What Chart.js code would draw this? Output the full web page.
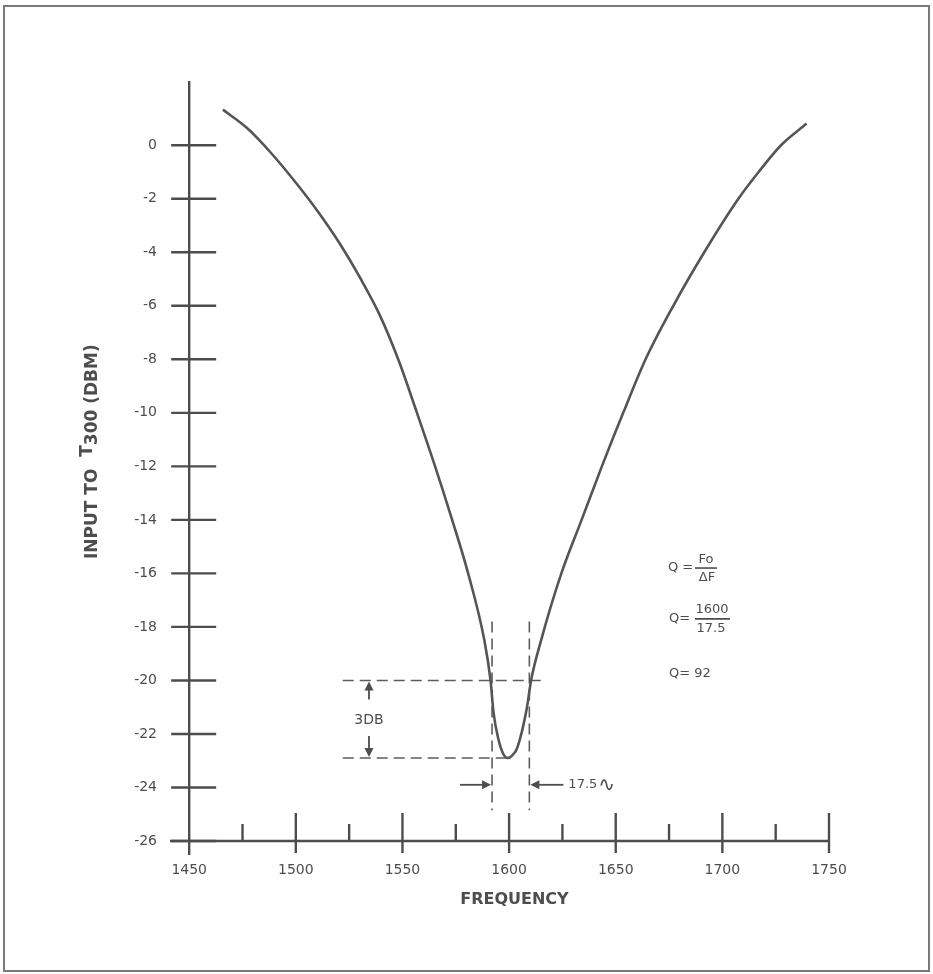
<!DOCTYPE html>
<html>
<head>
<meta charset="utf-8">
<script src="https://cdn.jsdelivr.net/npm/chart.js@4/dist/chart.umd.min.js"></script>
<style>
  body { margin: 0; background: #fff; }
  #wrap { position: relative; width: 933px; height: 974px; }
  #frame { position: absolute; left: 3px; top: 5px; width: 923px; height: 963px; border: 2px solid #7a7a7a; pointer-events: none; }
</style>
</head>
<body>
<div id="wrap">
  <canvas id="freqGraph" width="933" height="974"></canvas>
  <div id="frame"></div>
</div>
<script>
// response curve
const freqs  = [1465.8, 1477.0, 1488.5, 1500.5, 1511.0, 1520.8, 1530.1, 1539.2, 1548.0, 1556.8, 1565.3, 1573.3, 1580.8, 1588.4, 1591.3, 1592.7, 1595.0, 1597.0, 1599.3, 1601.5, 1603.9, 1608.4, 1610.3, 1615.0, 1624.5, 1634.0, 1643.5, 1653.5, 1664.0, 1677.0, 1691.5, 1707.5, 1717.0, 1727.5, 1739.5]
const levels = [1.33, 0.65, -0.3, -1.45, -2.55, -3.7, -4.95, -6.32, -8, -10, -12, -14, -16, -18.5, -20, -21.2, -22.2, -22.7, -22.9, -22.8, -22.5, -21, -20, -18.5, -16, -14, -12, -10, -8, -6, -4, -2, -1, 0, 0.81]

const xTickValues = [1450, 1500, 1550, 1600, 1650, 1700, 1750]
const xTickLabels = ['1450', '1500', '1550', '1600', '1650', '1700', '1750']
const xMinorTicks = [1475, 1525, 1575, 1625, 1675, 1725]
const yTickValues = [-26, -24, -22, -20, -18, -16, -14, -12, -10, -8, -6, -4, -2, 0]
const yTickLabels = ['-26', '-24', '-22', '-20', '-18', '-16', '-14', '-12', '-10', '-8', '-6', '-4', '-2', '0']

// 3 dB bandwidth construction
const halfPowerLevel = -20
const minLevel = -22.9
const bandEdges = [1592, 1609.5]
const guideStart = 1522
const guideEnds = [1616, 1599]
const edgeSpan = [-17.8, -24.85]

const ink = '#4d4d4d'
const fontFam = '"DejaVu Sans", sans-serif'

function line(ctx, x1, y1, x2, y2) {
    ctx.beginPath()
    ctx.moveTo(x1, y1)
    ctx.lineTo(x2, y2)
    ctx.stroke()
}

function arrowHead(ctx, x, y, dir) {//dir: 'up','down','left','right'
    const l = 9, w = 4.5
    ctx.beginPath()
    ctx.moveTo(x, y)
    if (dir == 'up') { ctx.lineTo(x - w, y + l); ctx.lineTo(x + w, y + l) }
    if (dir == 'down') { ctx.lineTo(x - w, y - l); ctx.lineTo(x + w, y - l) }
    if (dir == 'left') { ctx.lineTo(x + l, y - w); ctx.lineTo(x + l, y + w) }
    if (dir == 'right') { ctx.lineTo(x - l, y - w); ctx.lineTo(x - l, y + w) }
    ctx.closePath()
    ctx.fill()
}

const axesPlugin = {
    id: 'axesPlugin',
    beforeDatasetsDraw(chart) {
        const ctx = chart.ctx, xs = chart.scales.x, ys = chart.scales.y
        const x0 = xs.getPixelForValue(1450)
        const yb = ys.getPixelForValue(-26)
        ctx.save()
        ctx.strokeStyle = ink
        ctx.lineWidth = 2.4
        line(ctx, x0, ys.top, x0, yb + 14)//y axis
        line(ctx, xs.left, yb, xs.getPixelForValue(1750), yb)//x axis
        yTickValues.forEach(function (v) {
            const y = ys.getPixelForValue(v)
            line(ctx, x0 - 18, y, x0 + 27, y)
        })
        xTickValues.slice(1).forEach(function (v) {
            const x = xs.getPixelForValue(v)
            line(ctx, x, yb - 28, x, yb + 12)
        })
        xMinorTicks.forEach(function (v) {
            const x = xs.getPixelForValue(v)
            line(ctx, x, yb - 17, x, yb)
        })
        ctx.restore()
    },
    afterDatasetsDraw(chart) {
        const ctx = chart.ctx, xs = chart.scales.x, ys = chart.scales.y
        ctx.save()
        ctx.strokeStyle = ink
        ctx.fillStyle = ink
        ctx.lineWidth = 1.8

        // 3DB arrow
        const ax = xs.getPixelForValue(1534.3)
        const yTop = ys.getPixelForValue(halfPowerLevel)
        const yBot = ys.getPixelForValue(minLevel)
        line(ctx, ax, yTop + 4, ax, yTop + 19)
        line(ctx, ax, yBot - 22, ax, yBot - 4)
        arrowHead(ctx, ax, yTop + 1, 'up')
        arrowHead(ctx, ax, yBot - 1, 'down')
        ctx.font = '14px ' + fontFam
        ctx.textAlign = 'center'
        ctx.textBaseline = 'middle'
        ctx.fillText('3DB', ax, (yTop + yBot) / 2 + 1)

        // 17.5 arrows
        const ay = ys.getPixelForValue(-23.9)
        const lx = xs.getPixelForValue(bandEdges[0])
        const rx = xs.getPixelForValue(bandEdges[1])
        line(ctx, lx - 32, ay, lx - 6, ay)
        arrowHead(ctx, lx - 1, ay, 'right')
        line(ctx, rx + 6, ay, rx + 34, ay)
        arrowHead(ctx, rx + 1, ay, 'left')
        ctx.textAlign = 'left'
        ctx.font = '13px ' + fontFam
        ctx.fillText('17.5', rx + 39, ay)
        ctx.font = '20px ' + fontFam
        ctx.fillText('\u223F', rx + 69, ay + 1)

        // Q formulas
        const qx = xs.getPixelForValue(1674.5)
        const q1 = ys.getPixelForValue(-15.8)
        const q2 = ys.getPixelForValue(-17.7)
        const q3 = ys.getPixelForValue(-19.75)
        ctx.font = '13px ' + fontFam
        ctx.textAlign = 'left'
        ctx.fillText('Q =', qx, q1)
        ctx.fillText('Q=', qx + 1, q2)
        ctx.fillText('Q= 92', qx + 1, q3)
        ctx.textAlign = 'center'
        ctx.fillText('Fo', qx + 38, q1 - 8)
        ctx.fillText('\u0394F', qx + 39, q1 + 10)
        ctx.fillText('1600', qx + 44, q2 - 9)
        ctx.fillText('17.5', qx + 43, q2 + 10)
        ctx.lineWidth = 1.6
        line(ctx, qx + 27, q1, qx + 49, q1)
        line(ctx, qx + 27, q2, qx + 62, q2)

        // axis titles
        ctx.font = 'bold 16px ' + fontFam
        ctx.textAlign = 'center'
        ctx.textBaseline = 'middle'
        ctx.fillText('FREQUENCY', xs.getPixelForValue(1602.5), ys.getPixelForValue(-26) + 59)

        ctx.font = 'bold 17px ' + fontFam
        ctx.translate(xs.left - 77, ys.getPixelForValue(-11.45))
        ctx.rotate(-Math.PI / 2)
        const partA = 'INPUT TO  ', partT = 'T', partB = '300 (DBM)'
        const wA = ctx.measureText(partA).width, wT = ctx.measureText(partT).width, wB = ctx.measureText(partB).width
        let start = -(wA + wT + wB) / 2
        ctx.textAlign = 'left'
        ctx.fillText(partA, start, 0)
        ctx.fillText(partT, start + wA, -5)
        ctx.fillText(partB, start + wA + wT, 0)
        ctx.restore()
    }
}

function dashed(points) {
    return {
        data: points,
        borderColor: '#5c5c5c',
        borderWidth: 1.6,
        borderDash: [11, 6],
        pointRadius: 0,
        tension: 0
    }
}

new Chart(
    document.getElementById('freqGraph'),
    {
        type: 'line',
        data: {
            datasets: [
                {
                    data: freqs.map((f, i) => ({ x: f, y: levels[i] })),
                    borderColor: '#555',
                    borderWidth: 2.6,
                    pointRadius: 0,
                    cubicInterpolationMode: 'monotone'
                },
                dashed([{ x: guideStart, y: halfPowerLevel }, { x: guideEnds[0], y: halfPowerLevel }]),
                dashed([{ x: guideStart, y: minLevel }, { x: guideEnds[1], y: minLevel }]),
                dashed([{ x: bandEdges[0], y: edgeSpan[0] }, { x: bandEdges[0], y: edgeSpan[1] }]),
                dashed([{ x: bandEdges[1], y: edgeSpan[0] }, { x: bandEdges[1], y: edgeSpan[1] }])
            ]
        },
        options: {
            responsive: false,
            animation: false,
            events: [],//no hover
            layout: { padding: { top: 81, right: 104, left: 0, bottom: 0 } },
            plugins: {
                legend: { display: false },
                tooltip: { enabled: false }
            },
            scales: {
                x: {
                    type: 'linear',
                    min: 1441,
                    max: 1750,
                    grid: { display: false },
                    border: { display: false },
                    afterBuildTicks: function (scale) {
                        scale.ticks = xTickValues.map(v => ({ value: v }))
                    },
                    afterFit: function (scale) { scale.height = 133 },
                    ticks: {
                        autoSkip: false,
                        maxRotation: 0,
                        padding: 13,
                        color: ink,
                        font: { family: fontFam, size: 14 },
                        callback: function (value, index) { return xTickLabels[index] }
                    }
                },
                y: {
                    type: 'linear',
                    min: -26,
                    max: 2.4,
                    grid: { display: false },
                    border: { display: false },
                    afterBuildTicks: function (scale) {
                        scale.ticks = yTickValues.map(v => ({ value: v }))
                    },
                    afterFit: function (scale) { scale.width = 170 },
                    ticks: {
                        autoSkip: false,
                        padding: 5,
                        color: ink,
                        font: { family: fontFam, size: 14 },
                        callback: function (value, index) { return yTickLabels[index] }
                    }
                }
            }
        },
        plugins: [axesPlugin]
    })
</script>
</body>
</html>
